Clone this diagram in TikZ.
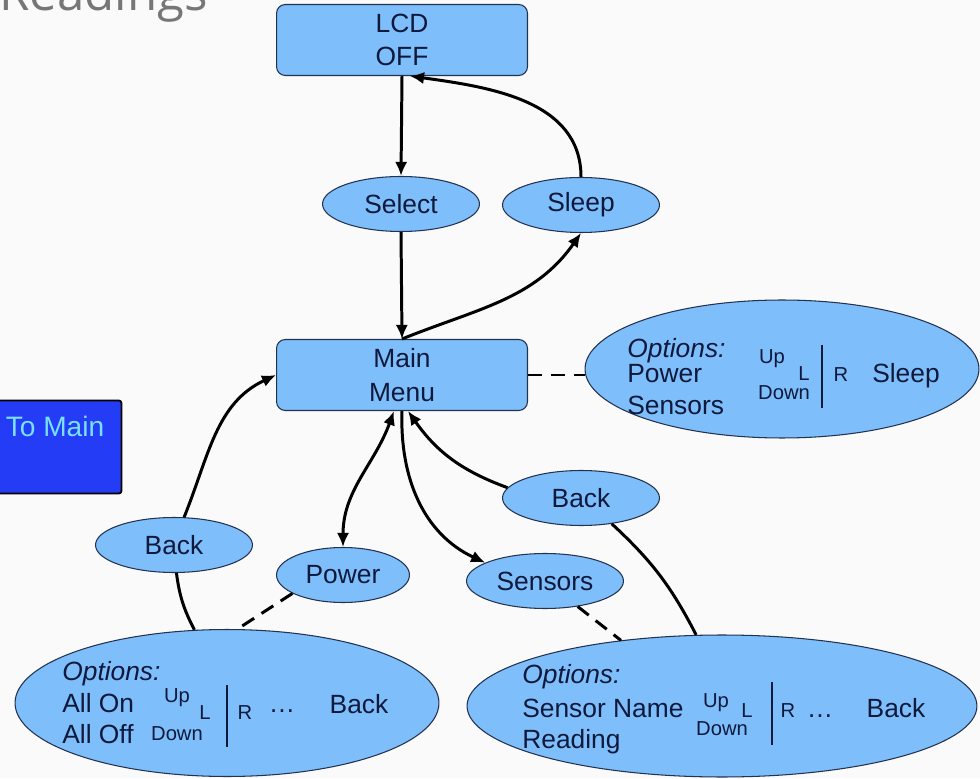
\documentclass[tikz,border=0pt]{standalone}
\usepackage{fontspec}
\setmainfont{Liberation Sans}
\newfontfamily\slidefont{Open Sans}
\usetikzlibrary{calc,shapes.geometric,arrows.meta}
\definecolor{slidebg}{RGB}{250,250,250}
\definecolor{titlegray}{RGB}{118,118,118}
\definecolor{boxblue}{RGB}{126,190,250}
\definecolor{boxline}{RGB}{35,50,80}
\definecolor{boxtext}{RGB}{15,25,60}
\definecolor{btnblue}{RGB}{36,60,245}
\definecolor{btntext}{RGB}{120,225,255}
\tikzset{
  menubox/.style={draw=boxline,fill=boxblue,line width=0.6pt,rounded corners=5pt,
    minimum width=5.02cm,minimum height=1.42cm,align=center,text=boxtext,
    font=\fontsize{15}{19}\selectfont},
  button/.style={ellipse,draw=boxline,fill=boxblue,line width=0.6pt,inner sep=0pt,
    minimum width=3.14cm,minimum height=1.1cm,text=boxtext,
    font=\fontsize{15}{18}\selectfont},
  optbubble/.style={ellipse,draw=boxline,fill=boxblue,line width=0.6pt,inner sep=0pt},
  optlabel/.style={anchor=base west,inner sep=0pt,text=boxtext,font=\fontsize{15}{18}\selectfont},
  keylabel/.style={anchor=base,inner sep=0pt,text=boxtext,font=\fontsize{11.5}{13}\selectfont},
  link/.style={line width=1.7pt,->},
  dashlink/.style={line width=1.7pt,dash pattern=on 8pt off 5pt}
}

\begin{document}
\begin{tikzpicture}[x=0.02cm,y=0.02cm,>={Latex[length=8pt,width=7pt]}]
  \useasboundingbox (0,0) rectangle (980,778);
  \fill[slidebg] (0,0) rectangle (980,778);

  % slide leftovers
  \node[text=titlegray,font=\slidefont\fontsize{28}{30}\selectfont,anchor=base east,inner sep=0pt] (title) at (208,767) {Readings};
  \node[draw=black,fill=btnblue,line width=1pt,rounded corners=1.5pt,minimum width=2.54cm,minimum height=1.86cm,inner sep=0pt] (tomain) at (58,331) {};
  \node[text=btntext,font=\fontsize{16}{18}\selectfont,anchor=base,inner sep=0pt] (tomaintext) at (55,341) {To Main};

  % states and buttons
  \node[menubox] (lcd) at (402,738) {LCD\\OFF};
  \node[button] (select) at (401,574) {Select};
  \node[button] (sleep) at (581,573) {Sleep};
  \node[menubox] (mainmenu) at (402,403) {Main\\Menu};
  \node[optbubble,minimum width=7.88cm,minimum height=2.76cm] (optmain) at (782,409) {};
  \node[button] (backL) at (174,233) {Back};
  \node[button,minimum width=2.66cm] (power) at (343,203) {Power};
  \node[button] (sensors) at (545,197) {Sensors};
  \node[button] (backR) at (581,280) {Back};
  \node[optbubble,minimum width=8.48cm,minimum height=2.94cm] (optpower) at (227,75) {};
  \node[optbubble,minimum width=10.2cm,minimum height=2.84cm] (optsensors) at (722,72) {};

  % main menu options
  \node[optlabel] (mainopt) at (627,420) {\itshape Options:};
  \node[optlabel] (mainpow) at (627,395) {Power};
  \node[optlabel] (mainsens) at (627,363) {Sensors};
  \node[keylabel] (mainup) at (772,414) {Up};
  \node[keylabel] (mainl) at (804,397) {L};
  \node[keylabel] (maindown) at (784,378) {Down};
  \draw[boxtext,line width=0.8pt] (822,433) -- (822,370);
  \node[keylabel] (mainr) at (841,396) {R};
  \node[optlabel,anchor=base] (mainsleep) at (906,395) {Sleep};

  % power options
  \node[optlabel] (powopt) at (62,98) {\itshape Options:};
  \node[optlabel] (powon) at (62,66) {All On};
  \node[optlabel] (powoff) at (62,35) {All Off};
  \node[keylabel] (powup) at (177,76) {Up};
  \node[keylabel] (powl) at (205,59) {L};
  \node[keylabel] (powdown) at (177,38) {Down};
  \draw[boxtext,line width=0.8pt] (227,93) -- (227,31);
  \node[keylabel] (powr) at (245,59) {R};
  \node[optlabel,anchor=base] (powdots) at (282,66) {…};
  \node[optlabel,anchor=base] (powback) at (359,65) {Back};

  % sensor options
  \node[optlabel] (sensopt) at (522,95) {\itshape Options:};
  \node[optlabel] (sensname) at (522,61) {Sensor Name};
  \node[optlabel] (sensread) at (522,30) {Reading};
  \node[keylabel] (sensup) at (716,71) {Up};
  \node[keylabel] (sensl) at (747,61) {L};
  \node[keylabel] (sensdown) at (722,43) {Down};
  \draw[boxtext,line width=0.8pt] (772,96) -- (772,33);
  \node[keylabel] (sensr) at (788,61) {R};
  \node[optlabel,anchor=base] (sensdots) at (820,61) {…};
  \node[optlabel,anchor=base] (sensback) at (896,61) {Back};

  % transitions
  \draw[link] (lcd.south) -- (select.north);
  \draw[link] (sleep.north) to[out=90,in=-8] ($(lcd.south)+(8,0)$);
  \draw[link] (select.south) -- (mainmenu.north);
  \draw[link] (mainmenu.north) to[out=22,in=-125] (sleep.south);
  \draw[dashlink] (mainmenu.east) -- (mainmenu.east -| optmain.west);
  \draw[link] (backL.70) to[out=68,in=205] (mainmenu.west);
  \draw[line width=1.7pt] (backL.-85) to[bend right=10] (optpower.114);
  \draw[link,<->] ($(mainmenu.south)+(-8,0)$) to[out=-110,in=90] (power.north);
  \draw[link] (mainmenu.south) to[out=-92,in=155] (sensors.163);
  \draw[link] (backR.172) to[out=160,in=-55] ($(mainmenu.south)+(6,0)$);
  \draw[line width=1.7pt] (backR.-40) to[bend left=10] (optsensors.110);
  \draw[dashlink] (power.200) -- (optpower.82);
  \draw[dashlink] (sensors.-38) -- (optsensors.147);
\end{tikzpicture}
\end{document}
